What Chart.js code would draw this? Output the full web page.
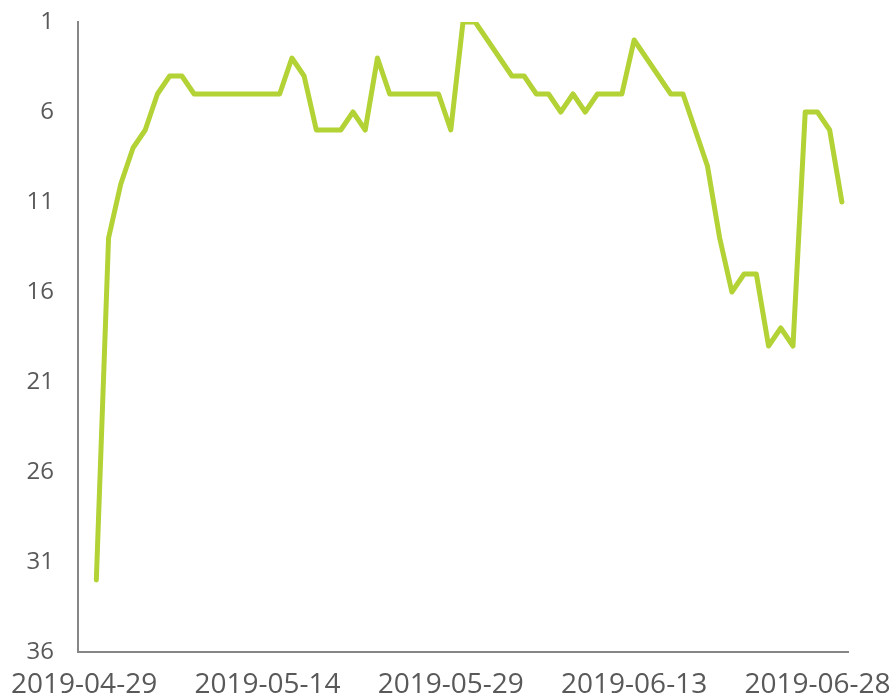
<!DOCTYPE html>
<html>
<head>
<meta charset="utf-8">
<script src="https://cdn.jsdelivr.net/npm/chart.js@4/dist/chart.umd.min.js"></script>
<style>
  html, body { margin: 0; padding: 0; background: #fff; }
  #wrap { width: 891px; height: 696px; }
</style>
</head>
<body>
<div id="wrap"><canvas id="c" width="891" height="696"></canvas></div>
<script>
const dates = [
  "2019-04-29","2019-04-30",
  "2019-05-01","2019-05-02","2019-05-03","2019-05-04","2019-05-05","2019-05-06","2019-05-07","2019-05-08","2019-05-09","2019-05-10",
  "2019-05-11","2019-05-12","2019-05-13","2019-05-14","2019-05-15","2019-05-16","2019-05-17","2019-05-18","2019-05-19","2019-05-20",
  "2019-05-21","2019-05-22","2019-05-23","2019-05-24","2019-05-25","2019-05-26","2019-05-27","2019-05-28","2019-05-29","2019-05-30","2019-05-31",
  "2019-06-01","2019-06-02","2019-06-03","2019-06-04","2019-06-05","2019-06-06","2019-06-07","2019-06-08","2019-06-09","2019-06-10",
  "2019-06-11","2019-06-12","2019-06-13","2019-06-14","2019-06-15","2019-06-16","2019-06-17","2019-06-18","2019-06-19","2019-06-20",
  "2019-06-21","2019-06-22","2019-06-23","2019-06-24","2019-06-25","2019-06-26","2019-06-27","2019-06-28","2019-06-29","2019-06-30"
];
const ranks = [
  null, 32,
  13, 10, 8, 7, 5, 4, 4, 5, 5, 5,
  5, 5, 5, 5, 5, 3, 4, 7, 7, 7,
  6, 7, 3, 5, 5, 5, 5, 5, 7, 1, 1,
  2, 3, 4, 4, 5, 5, 6, 5, 6, 5,
  5, 5, 2, 3, 4, 5, 5, 7, 9, 13,
  16, 15, 15, 19, 18, 19, 6, 6, 7, 11
];
const xTickLabels = ["2019-04-29","2019-05-14","2019-05-29","2019-06-13","2019-06-28"];
const yTicks = [1, 6, 11, 16, 21, 26, 31, 36];

const textColor = "#595959";
const axisColor = "#868686";

new Chart(document.getElementById("c"), {
  type: "line",
  data: {
    labels: dates,
    datasets: [{
      data: ranks,
      borderColor: "#b2d235",
      borderWidth: 5,
      pointRadius: 0,
      pointHoverRadius: 0,
      tension: 0,
      fill: false,
      borderJoinStyle: "round",
      borderCapStyle: "round"
    }]
  },
  options: {
    responsive: false,
    animation: false,
    events: [],
    layout: { padding: { top: 22, right: 43, left: 0, bottom: 0 } },
    plugins: { legend: { display: false }, tooltip: { enabled: false } },
    scales: {
      x: {
        type: "category",
        offset: true,
        grid: { display: false, drawTicks: false },
        border: { display: true, color: axisColor, width: 2 },
        ticks: {
          autoSkip: false,
          maxRotation: 0,
          minRotation: 0,
          padding: 16,
          color: textColor,
          font: { family: "'Open Sans', sans-serif", size: 28 },
          callback: function (val) {
            const lab = this.getLabelForValue(val);
            return xTickLabels.includes(lab) ? lab : "";
          }
        },
        afterFit: function (axis) {
          axis.height = 44;
          axis.paddingLeft = 0; axis.paddingRight = 0;
          axis.paddingTop = 0; axis.paddingBottom = 0;
        }
      },
      y: {
        type: "linear",
        reverse: true,
        min: 1,
        max: 36,
        grid: { display: false, drawTicks: false },
        border: { display: true, color: axisColor, width: 2 },
        ticks: {
          padding: 24,
          color: textColor,
          font: { family: "'Open Sans', sans-serif", size: 24 }
        },
        afterBuildTicks: function (axis) {
          axis.ticks = yTicks.map(v => ({ value: v }));
        },
        afterFit: function (axis) {
          axis.width = 78;
          axis.paddingLeft = 0; axis.paddingRight = 0;
          axis.paddingTop = 0; axis.paddingBottom = 0;
        }
      }
    }
  }
});
</script>
</body>
</html>
